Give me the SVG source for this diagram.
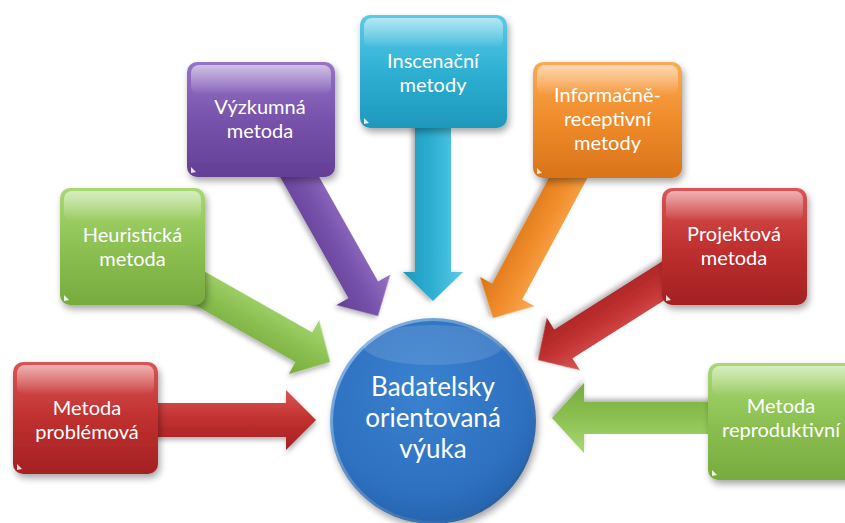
<svg xmlns="http://www.w3.org/2000/svg" width="845" height="523" viewBox="0 0 845 523">
  <defs>
    <style>
      .lbl { font-family: Lato, "Open Sans", "Liberation Sans", sans-serif; font-size: 20px; fill: #ffffff; text-anchor: middle; }
      .big { font-family: Lato, "Open Sans", "Liberation Sans", sans-serif; font-size: 26px; fill: #ffffff; text-anchor: middle; }
      .gloss { fill: url(#gGloss); }
      .tri { fill: #ffffff; opacity: 0.85; }
      .box { filter: url(#shadow); }
      .arr { filter: url(#ashadow); }
    </style>
    <filter id="shadow" x="-20%" y="-20%" width="140%" height="150%">
      <feDropShadow dx="2" dy="4" stdDeviation="3.5" flood-color="#000000" flood-opacity="0.35"/>
    </filter>
    <filter id="ashadow" x="-20%" y="-30%" width="140%" height="160%">
      <feDropShadow dx="1" dy="3" stdDeviation="2.5" flood-color="#000000" flood-opacity="0.3"/>
    </filter>
    <linearGradient id="gGloss" x1="0" y1="0" x2="0" y2="1">
      <stop offset="0" stop-color="#ffffff" stop-opacity="0.55"/>
      <stop offset="1" stop-color="#ffffff" stop-opacity="0"/>
    </linearGradient>
    <linearGradient id="gRed" x1="0" y1="0" x2="0" y2="1">
      <stop offset="0" stop-color="#da5556"/>
      <stop offset="0.5" stop-color="#c0302f"/>
      <stop offset="1" stop-color="#a32123"/>
    </linearGradient>
    <linearGradient id="gGreen" x1="0" y1="0" x2="0" y2="1">
      <stop offset="0" stop-color="#aad874"/>
      <stop offset="0.5" stop-color="#8cc152"/>
      <stop offset="1" stop-color="#77ab3e"/>
    </linearGradient>
    <linearGradient id="gPurple" x1="0" y1="0" x2="0" y2="1">
      <stop offset="0" stop-color="#9774c6"/>
      <stop offset="0.5" stop-color="#7752ab"/>
      <stop offset="1" stop-color="#643f95"/>
    </linearGradient>
    <linearGradient id="gCyan" x1="0" y1="0" x2="0" y2="1">
      <stop offset="0" stop-color="#5ccbe6"/>
      <stop offset="0.5" stop-color="#2eb0d3"/>
      <stop offset="1" stop-color="#1e98bb"/>
    </linearGradient>
    <linearGradient id="gOrange" x1="0" y1="0" x2="0" y2="1">
      <stop offset="0" stop-color="#fbaa55"/>
      <stop offset="0.5" stop-color="#f08c2a"/>
      <stop offset="1" stop-color="#d9731b"/>
    </linearGradient>
    <radialGradient id="gBlue" cx="0.45" cy="0.35" r="0.7">
      <stop offset="0" stop-color="#3a82d0"/>
      <stop offset="0.75" stop-color="#2d70bf"/>
      <stop offset="1" stop-color="#2361aa"/>
    </radialGradient>
    <linearGradient id="gRim" x1="0" y1="0" x2="1" y2="1">
      <stop offset="0" stop-color="#8fc0ee"/>
      <stop offset="1" stop-color="#1c4f90"/>
    </linearGradient>
  </defs>

  <rect width="845" height="523" fill="#ffffff"/>

  <g id="connectors">
    <path class="arr" fill="url(#gRed)" transform="translate(316,420)" d="M-166,-17 L-30,-17 L-30,-30 L0,0 L-30,30 L-30,17 L-166,17 Z"/>
    <path class="arr" fill="url(#gGreen)" transform="translate(330,362) rotate(29.5)" d="M-167,-17 L-30,-17 L-30,-31 L0,0 L-30,31 L-30,17 L-167,17 Z"/>
    <path class="arr" fill="url(#gPurple)" transform="translate(378,316) rotate(60.6)" d="M-179,-17 L-30,-17 L-30,-31 L0,0 L-30,31 L-30,17 L-179,17 Z"/>
    <path class="arr" fill="url(#gCyan)" transform="translate(433,301) rotate(90)" d="M-191,-18 L-29,-18 L-29,-30 L0,0 L-29,30 L-29,18 L-191,18 Z"/>
    <path class="arr" fill="url(#gOrange)" transform="translate(493,318) rotate(118.2)" d="M-174,-17 L-30,-17 L-30,-31 L0,0 L-30,31 L-30,17 L-174,17 Z"/>
    <path class="arr" fill="url(#gRed)" transform="translate(538,360) rotate(147.7)" d="M-180,-17 L-30,-17 L-30,-31 L0,0 L-30,31 L-30,17 L-180,17 Z"/>
    <path class="arr" fill="url(#gGreen)" transform="translate(552,418) rotate(180)" d="M-188,-16 L-32,-16 L-32,-35 L0,0 L-32,35 L-32,16 L-188,16 Z"/>
  </g>

  <g id="node-problemova">
    <rect class="box" x="13" y="362" width="145" height="112" rx="10" fill="url(#gRed)"/>
    <rect class="gloss" x="17" y="365" width="137" height="30" rx="8"/>
    <path class="tri" d="M17,470 L17,464 L22,469 Z"/>
    <text class="lbl" x="87" y="415">Metoda</text>
    <text class="lbl" x="87" y="439">problémová</text>
  </g>

  <g id="node-heuristicka">
    <rect class="box" x="60" y="188" width="145" height="117" rx="10" fill="url(#gGreen)"/>
    <rect class="gloss" x="64" y="191" width="137" height="30" rx="8"/>
    <path class="tri" d="M64,301 L64,295 L69,300 Z"/>
    <text class="lbl" x="132.5" y="242">Heuristická</text>
    <text class="lbl" x="132.5" y="266">metoda</text>
  </g>

  <g id="node-vyzkumna">
    <rect class="box" x="187" y="62" width="148" height="115" rx="10" fill="url(#gPurple)"/>
    <rect class="gloss" x="191" y="65" width="140" height="30" rx="8"/>
    <path class="tri" d="M191,173 L191,167 L196,172 Z"/>
    <text class="lbl" x="260" y="114">Výzkumná</text>
    <text class="lbl" x="260" y="138">metoda</text>
  </g>

  <g id="node-inscenacni">
    <rect class="box" x="360" y="15" width="147" height="113" rx="10" fill="url(#gCyan)"/>
    <rect class="gloss" x="364" y="18" width="139" height="30" rx="8"/>
    <path class="tri" d="M364,124 L364,118 L369,123 Z"/>
    <text class="lbl" x="433" y="68">Inscenační</text>
    <text class="lbl" x="433" y="92">metody</text>
  </g>

  <g id="node-informacne">
    <rect class="box" x="533" y="62" width="149" height="116" rx="10" fill="url(#gOrange)"/>
    <rect class="gloss" x="537" y="65" width="141" height="30" rx="8"/>
    <path class="tri" d="M537,174 L537,168 L542,173 Z"/>
    <text class="lbl" x="607.5" y="102">Informačně-</text>
    <text class="lbl" x="607.5" y="126">receptivní</text>
    <text class="lbl" x="607.5" y="150">metody</text>
  </g>

  <g id="node-projektova">
    <rect class="box" x="662" y="188" width="145" height="117" rx="10" fill="url(#gRed)"/>
    <rect class="gloss" x="666" y="191" width="137" height="30" rx="8"/>
    <path class="tri" d="M666,301 L666,295 L671,300 Z"/>
    <text class="lbl" x="734" y="241">Projektová</text>
    <text class="lbl" x="734" y="265">metoda</text>
  </g>

  <g id="node-reproduktivni">
    <rect class="box" x="708" y="363" width="150" height="117" rx="10" fill="url(#gGreen)"/>
    <rect class="gloss" x="712" y="366" width="142" height="30" rx="8"/>
    <path class="tri" d="M712,476 L712,470 L717,475 Z"/>
    <text class="lbl" x="781" y="413">Metoda</text>
    <text class="lbl" x="781" y="437">reproduktivní</text>
  </g>

  <g id="node-center">
    <circle cx="433" cy="421" r="103" fill="url(#gRim)" filter="url(#shadow)"/>
    <circle cx="433" cy="421" r="100" fill="url(#gBlue)"/>
    <ellipse cx="433" cy="345" rx="70" ry="20" fill="#ffffff" opacity="0.12"/>
    <text class="big" x="433" y="396">Badatelsky</text>
    <text class="big" x="433" y="427">orientovaná</text>
    <text class="big" x="433" y="458">výuka</text>
  </g>
</svg>
